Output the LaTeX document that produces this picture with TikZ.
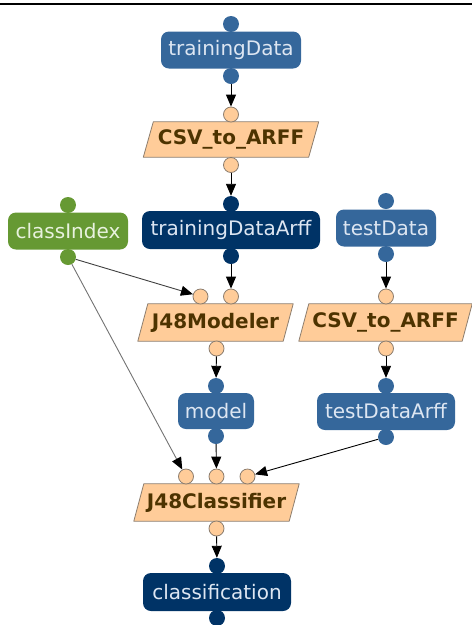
\documentclass[tikz,border=0pt]{standalone}
\usepackage{fontspec}
\setmainfont{DejaVu Sans}
\usetikzlibrary{arrows.meta,backgrounds}

\definecolor{midblue}{RGB}{53,103,155}
\definecolor{navy}{RGB}{0,51,102}
\definecolor{leaf}{RGB}{102,153,51}
\definecolor{peach}{RGB}{255,204,153}
\definecolor{peachline}{RGB}{140,125,110}
\definecolor{brown}{RGB}{77,51,0}
\definecolor{paleblue}{RGB}{221,230,242}
\definecolor{palegreen}{RGB}{232,242,222}

\tikzset{
  databox/.style={rounded corners=8pt, inner sep=0pt, minimum height=37pt,
    text=paleblue, font=\fontsize{20}{23}\selectfont},
  procnode/.style={inner sep=0pt, minimum height=37pt, text=brown,
    font=\fontsize{20}{23}\selectfont\bfseries},
  procdraw/.style={fill=peach, draw=peachline, line width=0.8pt, line join=round},
  dport/.style={circle, inner sep=0pt, minimum size=16pt, fill=#1},
  pport/.style={circle, inner sep=0pt, minimum size=15pt, fill=peach,
    draw=peachline, line width=0.8pt},
  arr/.style={line width=0.9pt, -{Triangle[length=12pt,width=10pt,color=black]}},
}

% slanted processing step: name, centre x, centre y, edge width, height, label
\newcommand\procstep[6]{%
  \node[procnode, minimum width=#4pt, minimum height=#5pt] (#1) at (#2,#3) {#6};
  \begin{scope}[on background layer]
    \draw[procdraw] ([xshift=5pt]#1.north west) -- ([xshift=5pt]#1.north east)
      -- ([xshift=-5pt]#1.south east) -- ([xshift=-5pt]#1.south west) -- cycle;
  \end{scope}
}

\begin{document}
\begin{tikzpicture}[x=1pt, y=-1pt]
  \useasboundingbox (0,0) rectangle (472,625);
  \fill[black] (0,2.7) rectangle (472,5.3);

  % data items
  \node[databox, fill=midblue, minimum width=140pt] (trainingData) at (231,50) {trainingData};
  \node[dport=midblue] (tdT) at (231,24) {};
  \node[dport=midblue] (tdB) at (231,76) {};

  \node[databox, fill=navy, minimum width=178pt, minimum height=38pt] (trainingDataArff) at (231,230) {trainingDataArff};
  \node[dport=navy] (tdaT) at (231,204) {};
  \node[dport=navy] (tdaB) at (231,256) {};

  \node[databox, fill=leaf, text=palegreen, minimum width=120pt] (classIndex) at (68,231) {classIndex};
  \node[dport=leaf] (ciT) at (68,205) {};
  \node[dport=leaf] (ciB) at (68,257) {};

  \node[databox, fill=midblue, minimum width=100pt] (testData) at (386,228) {testData};
  \node[dport=midblue] (tsT) at (386,201) {};
  \node[dport=midblue] (tsB) at (386,254) {};

  \node[databox, fill=midblue, minimum width=76pt, minimum height=36pt] (model) at (216,411) {model};
  \node[dport=midblue] (mT) at (216,386) {};
  \node[dport=midblue] (mB) at (216,436) {};

  \node[databox, fill=midblue, minimum width=138pt] (testDataArff) at (386,411.5) {testDataArff};
  \node[dport=midblue] (taT) at (386,386) {};
  \node[dport=midblue] (taB) at (386,437) {};

  \node[databox, fill=navy, minimum width=148pt, minimum height=38pt] (classification) at (217,592) {classification};
  \node[dport=navy] (clT) at (217,566) {};
  \node[dport=navy] (clB) at (217,618) {};

  % processing steps
  \procstep{csvA}{231}{139.5}{165}{35}{CSV\_to\_ARFF}
  \node[pport] (cAin) at (231,114.5) {};
  \node[pport] (cAout) at (231,165) {};

  \procstep{modeler}{215.5}{322.5}{145}{37}{J48Modeler}
  \node[pport] (jmL) at (200.5,296.5) {};
  \node[pport] (jmR) at (231,296.5) {};
  \node[pport] (jmO) at (216.5,348.5) {};

  \procstep{csvB}{385.5}{322.5}{163}{37}{CSV\_to\_ARFF}
  \node[pport] (cBin) at (386,296.5) {};
  \node[pport] (cBout) at (386,348.5) {};

  \procstep{classifier}{216.5}{502.5}{155}{37}{J48Classifier}
  \node[pport] (jcL) at (186,476.5) {};
  \node[pport] (jcM) at (216.5,476.5) {};
  \node[pport] (jcR) at (247.5,476.5) {};
  \node[pport] (jcO) at (216.5,528.5) {};

  % connectors
  \draw[arr] (tdB) -- (cAin);
  \draw[arr] (cAout) -- (tdaT);
  \draw[arr] (tdaB) -- (jmR);
  \draw[arr, draw=black!75] (ciB) -- (jmL);
  \draw[arr] (tsB) -- (cBin);
  \draw[arr] (cBout) -- (taT);
  \draw[arr] (jmO) -- (mT);
  \draw[arr] (mB) -- (jcM);
  \draw[arr, draw=black!55] (ciB) -- (jcL);
  \draw[arr] (taB) -- (jcR);
  \draw[arr] (jcO) -- (clT);
\end{tikzpicture}
\end{document}
